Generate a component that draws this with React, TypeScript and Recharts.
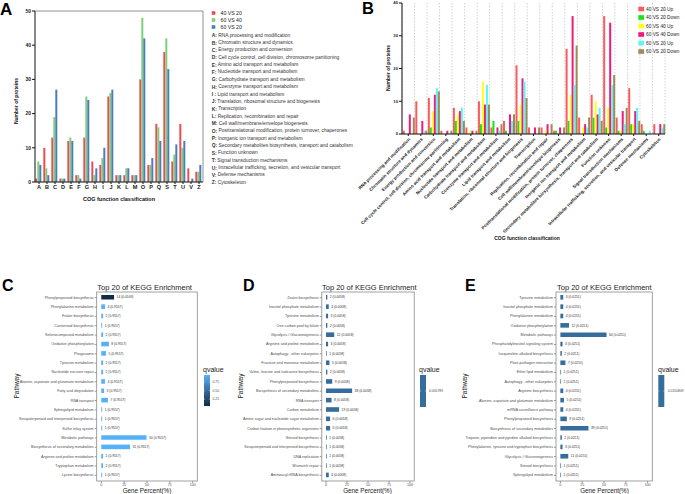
import React from "react";
import { BarChart, Bar, XAxis, YAxis, CartesianGrid, LabelList, Cell } from "recharts";

const FONT = "'Liberation Sans', Arial, Helvetica, sans-serif";

// ---------- Panel A ----------
const cogLetters = ["A", "B", "C", "D", "E", "F", "G", "H", "I", "J", "K", "L", "M", "O", "P", "Q", "S", "T", "U", "V", "Z"];
const cogNames = [
  "RNA processing and modification",
  "Chromatin structure and dynamics",
  "Energy production and conversion",
  "Cell cycle control, cell division, chromosome partitioning",
  "Amino acid transport and metabolism",
  "Nucleotide transport and metabolism",
  "Carbohydrate transport and metabolism",
  "Coenzyme transport and metabolism",
  "Lipid transport and metabolism",
  "Translation, ribosomal structure and biogenesis",
  "Transcription",
  "Replication, recombination and repair",
  "Cell wall/membrane/envelope biogenesis",
  "Posttranslational modification, protein turnover, chaperones",
  "Inorganic ion transport and metabolism",
  "Secondary metabolites biosynthesis, transport and catabolism",
  "Function unknown",
  "Signal transduction mechanisms",
  "Intracellular trafficking, secretion, and vesicular transport",
  "Defense mechanisms",
  "Cytoskeleton",
];
const aSeriesNames = ["40 VS 20", "60 VS 40", "60 VS 20"];
const aColors = ["#f04c4f", "#7dd07b", "#4b7db8"];
const a40vs20 = [1, 10, 13, 1, 12, 2, 13, 6, 5, 25, 2, 2, 2, 30, 5, 17, 38, 6, 17, 4, 3];
const a60vs40 = [6, 4, 19, 1, 13, 2, 25, 2, 7, 26, 2, 4, 2, 48, 5, 16, 42, 8, 10, 0, 3];
const a60vs20 = [5, 2, 27, 1, 12, 1, 24, 4, 10, 27, 2, 4, 2, 42, 7, 12, 33, 11, 12, 1, 5];
const aTicks = [0, 10, 20, 30, 40, 50];

// ---------- Panel B ----------
const bSeriesNames = ["40 VS 20 Up", "40 VS 20 Down", "60 VS 40 Up", "60 VS 40 Down", "60 VS 20 Up", "60 VS 20 Down"];
const bColors = ["#f85c5c", "#1ee01e", "#ffff1a", "#ee1a7c", "#5cf6f6", "#9e8a55"];
const b40Up = [1, 10, 11, 1, 8, 2, 10, 2, 4, 21, 2, 2, 1, 26, 5, 12, 36, 5, 14, 3, 3];
const b40Down = [0, 0, 2, 0, 4, 0, 3, 4, 1, 4, 0, 0, 1, 4, 0, 5, 2, 1, 3, 1, 0];
const b6040Up = [0, 0, 7, 0, 6, 1, 16, 0, 0, 9, 0, 1, 0, 12, 2, 10, 8, 1, 3, 0, 0];
const b6040Down = [6, 4, 12, 1, 7, 1, 9, 2, 6, 17, 2, 3, 2, 36, 3, 6, 34, 7, 7, 0, 3];
const b6020Up = [0, 1, 14, 0, 8, 0, 15, 1, 4, 16, 0, 0, 0, 15, 2, 8, 15, 3, 8, 1, 2];
const b6020Down = [5, 1, 13, 1, 4, 1, 9, 3, 6, 11, 2, 3, 2, 27, 5, 4, 18, 8, 4, 0, 3];
const bTicks = [0, 10, 20, 30, 40];

// ---------- Panel C ----------
const cNames = [
  "Phenylpropanoid biosynthesis",
  "Phenylalanine metabolism",
  "Folate biosynthesis",
  "Carotenoid biosynthesis",
  "Selenocompound metabolism",
  "Oxidative phosphorylation",
  "Phagosome",
  "Tyrosine metabolism",
  "Nucleotide excision repair",
  "Alanine, aspartate and glutamate metabolism",
  "Fatty acid degradation",
  "RNA transport",
  "Sphingolipid metabolism",
  "Sesquiterpenoid and triterpenoid biosynthesis",
  "Sulfur relay system",
  "Metabolic pathways",
  "Biosynthesis of secondary metabolites",
  "Arginine and proline metabolism",
  "Tryptophan metabolism",
  "Lysine biosynthesis",
];
const cCounts = [14, 4, 2, 1, 2, 8, 5, 2, 2, 4, 3, 7, 1, 1, 1, 50, 31, 2, 2, 1];
const cPercent = [14.0, 4.1, 2.0, 1.0, 2.0, 8.3, 5.1, 2.0, 2.0, 4.1, 3.1, 7.3, 1.0, 1.0, 1.0, 49.5, 31.4, 2.0, 2.0, 1.0];
const cQ = [0.0509, 0.9557, 0.9557, 0.9557, 0.9557, 0.9557, 0.9557, 0.9557, 0.9557, 0.9557, 0.9557, 0.9557, 0.9557, 0.9557, 0.9557, 0.9557, 0.9557, 0.9557, 0.9557, 0.9557];
const cLegendTicks = [0.25, 0.5, 0.75];

// ---------- Panel D ----------
const dNames = [
  "Zeatin biosynthesis",
  "Inositol phosphate metabolism",
  "Tyrosine metabolism",
  "One carbon pool by folate",
  "Glycolysis / Gluconeogenesis",
  "Arginine and proline metabolism",
  "Autophagy - other eukaryotes",
  "Fructose and mannose metabolism",
  "Valine, leucine and isoleucine biosynthesis",
  "Phenylpropanoid biosynthesis",
  "Biosynthesis of secondary metabolites",
  "RNA transport",
  "Carbon metabolism",
  "Amino sugar and nucleotide sugar metabolism",
  "Carbon fixation in photosynthetic organisms",
  "Steroid biosynthesis",
  "Sesquiterpenoid and triterpenoid biosynthesis",
  "DNA replication",
  "Mismatch repair",
  "Aminoacyl-tRNA biosynthesis",
];
const dCounts = [2, 4, 3, 2, 12, 3, 1, 5, 2, 9, 38, 8, 19, 6, 6, 1, 1, 1, 1, 4];
const dPercent = [1.6, 3.3, 2.5, 1.6, 9.8, 2.5, 0.8, 4.1, 1.6, 7.4, 31.1, 6.6, 15.6, 4.9, 4.9, 0.8, 0.8, 0.8, 0.8, 3.3];
const dQ = 0.0058;
const dLegendLabel = "0.005789";

// ---------- Panel E ----------
const eNames = [
  "Tyrosine metabolism",
  "Inositol phosphate metabolism",
  "Phenylalanine metabolism",
  "Oxidative phosphorylation",
  "Metabolic pathways",
  "Phosphatidylinositol signaling system",
  "Isoquinoline alkaloid biosynthesis",
  "Plant-pathogen interaction",
  "Ether lipid metabolism",
  "Autophagy - other eukaryotes",
  "Arginine biosynthesis",
  "Alanine, aspartate and glutamate metabolism",
  "mRNA surveillance pathway",
  "Phenylpropanoid biosynthesis",
  "Biosynthesis of secondary metabolites",
  "Tropane, piperidine and pyridine alkaloid biosynthesis",
  "Phenylalanine, tyrosine and tryptophan biosynthesis",
  "Glycolysis / Gluconeogenesis",
  "Steroid biosynthesis",
  "Sphingolipid metabolism",
];
const eCounts = [4, 4, 4, 12, 64, 3, 2, 7, 1, 1, 4, 5, 4, 9, 39, 2, 3, 11, 1, 1];
const ePercent = [3.3, 3.3, 3.3, 9.9, 52.9, 2.5, 1.7, 5.8, 0.8, 0.8, 3.3, 4.1, 3.3, 7.4, 32.2, 1.7, 2.5, 9.1, 0.8, 0.8];
const eQ = 0.0251;
const eLegendLabel = "0.0250849";

const pctTicks = [0, 25, 50, 75, 100];

const LOW = [0x13, 0x2b, 0x43];
const HIGH = [0x56, 0xb1, 0xf7];
function qColor(q: number, qmin: number, qmax: number) {
  const t = qmax > qmin ? (q - qmin) / (qmax - qmin) : 0.5;
  const c = LOW.map((l, i) => Math.round(l + (HIGH[i] - l) * t));
  return `rgb(${c[0]},${c[1]},${c[2]})`;
}

const BTick = (props: any) => {
  const { x, y, payload } = props;
  const ax = x + 1.2;
  const ay = y + 1.5;
  return (
    <text
      x={ax}
      y={ay}
      transform={`rotate(-45 ${ax} ${ay})`}
      textAnchor="end"
      dominantBaseline="central"
      fontSize={4.45}
      fontWeight="bold"
      fill="#222"
      fontFamily={FONT}
    >
      {payload.value}
    </text>
  );
};

const PathTick = (props: any) => {
  const { x, y, payload } = props;
  return (
    <text x={x} y={y} textAnchor="end" dominantBaseline="central" fontSize={3.7} fill="#4d4d4d" fontFamily={FONT}>
      {payload.value}
    </text>
  );
};

type KeggProps = {
  left: number;
  top: number;
  width: number;
  yW: number;
  mRight: number;
  rows: { name: string; pct: number; label: string; color: string }[];
};

function KeggChart({ left, top, width, yW, mRight, rows }: KeggProps) {
  return (
    <div style={{ position: "absolute", left, top }}>
      <BarChart
        layout="vertical"
        width={width}
        height={494 - top}
        data={rows}
        margin={{ top: 292 - top, right: mRight, left: 0, bottom: 4 }}
      >
        <XAxis
          type="number"
          domain={[-5, 105]}
          ticks={pctTicks}
          axisLine={false}
          tickLine={{ stroke: "#333", strokeWidth: 0.5 }}
          tickSize={2}
          tickMargin={0.5}
          height={9}
          tick={{ fontSize: 3.6, fill: "#4d4d4d", fontFamily: FONT }}
        />
        <YAxis
          type="category"
          dataKey="name"
          width={yW}
          axisLine={false}
          tickLine={{ stroke: "#333", strokeWidth: 0.5 }}
          tickSize={2}
          tickMargin={1}
          interval={0}
          padding={{ top: 1, bottom: 1 }}
          tick={<PathTick />}
        />
        <Bar dataKey="pct" barSize={4.6} isAnimationActive={false}>
          {rows.map((r, i) => (
            <Cell key={i} fill={r.color} />
          ))}
          <LabelList dataKey="label" position="right" offset={2.5} fontSize={3.3} fill="#333" fontFamily={FONT} />
        </Bar>
      </BarChart>
    </div>
  );
}

export default function App() {
  const aData = cogLetters.map((l, i) => ({ name: l, v0: a40vs20[i], v1: a60vs40[i], v2: a60vs20[i] }));
  const bData = cogNames.map((n, i) => ({
    name: n,
    s0: b40Up[i],
    s1: b40Down[i],
    s2: b6040Up[i],
    s3: b6040Down[i],
    s4: b6020Up[i],
    s5: b6020Down[i],
  }));
  const cMin = Math.min(...cQ);
  const cMax = Math.max(...cQ);
  const cRows = cNames.map((n, i) => ({
    name: n,
    pct: cPercent[i],
    label: `${cCounts[i]} (${cQ[i].toFixed(4)})`,
    color: qColor(cQ[i], cMin, cMax),
  }));
  const dRows = dNames.map((n, i) => ({
    name: n,
    pct: dPercent[i],
    label: `${dCounts[i]} (${dQ.toFixed(4)})`,
    color: qColor(dQ, dQ, dQ),
  }));
  const eRows = eNames.map((n, i) => ({
    name: n,
    pct: ePercent[i],
    label: `${eCounts[i]} (${eQ.toFixed(4)})`,
    color: qColor(eQ, eQ, eQ),
  }));

  const midColor = qColor(0, 0, 0);
  const cbTop = 375;
  const cbH = 31;
  const cbY = (q: number) => cbTop + cbH - ((q - cMin) / (cMax - cMin)) * cbH;

  const bold = { fontFamily: FONT, fontWeight: "bold" as const };

  return (
    <div
      style={{
        position: "absolute",
        left: 0,
        top: 0,
        width: 685,
        height: 494,
        background: "#fff",
        overflow: "hidden",
        fontFamily: FONT,
      }}
    >
      {/* Panel A */}
      <div style={{ position: "absolute", left: 0, top: 0 }}>
        <BarChart
          width={210}
          height={205}
          data={aData}
          margin={{ top: 11, right: 7, left: 0, bottom: 7 }}
          barCategoryGap="4%"
          barGap={0}
        >
          <XAxis
            dataKey="name"
            height={16}
            interval={0}
            tickSize={2}
            tickMargin={1}
            axisLine={{ stroke: "#111" }}
            tickLine={{ stroke: "#111" }}
            tick={{ fontSize: 5.6, fill: "#222", fontWeight: "bold", fontFamily: FONT }}
          />
          <YAxis
            width={35}
            domain={[0, 50]}
            ticks={aTicks}
            tickSize={3}
            tickMargin={1}
            axisLine={{ stroke: "#111" }}
            tickLine={{ stroke: "#111" }}
            tick={{ fontSize: 5, fill: "#222", fontWeight: "bold", fontFamily: FONT }}
          />
          <Bar dataKey="v0" name={aSeriesNames[0]} fill={aColors[0]} isAnimationActive={false} />
          <Bar dataKey="v1" name={aSeriesNames[1]} fill={aColors[1]} isAnimationActive={false} />
          <Bar dataKey="v2" name={aSeriesNames[2]} fill={aColors[2]} isAnimationActive={false} />
        </BarChart>
      </div>

      {/* Panel B */}
      <div style={{ position: "absolute", left: 340, top: 0 }}>
        <BarChart
          width={345}
          height={252}
          data={bData}
          margin={{ top: 3, right: 20, left: 42, bottom: 13 }}
          barCategoryGap={0.8}
          barGap={0}
        >
          <CartesianGrid
            horizontal={false}
            stroke="#d0d0d0"
            strokeDasharray="1.5 1.5"
            verticalCoordinatesGenerator={({ offset }: any) =>
              Array.from({ length: cogNames.length + 1 }, (_, i) => offset.left + (i * offset.width) / cogNames.length)
            }
          />
          <XAxis
            dataKey="name"
            height={105}
            interval={0}
            tickSize={2}
            tickMargin={1}
            axisLine={{ stroke: "#111" }}
            tickLine={{ stroke: "#111" }}
            tick={<BTick />}
          />
          <YAxis
            width={20}
            domain={[0, 40]}
            ticks={bTicks}
            tickSize={3}
            tickMargin={1}
            axisLine={{ stroke: "#111" }}
            tickLine={{ stroke: "#111" }}
            tick={{ fontSize: 4.2, fill: "#222", fontWeight: "bold", fontFamily: FONT }}
          />
          {bSeriesNames.map((s, i) => (
            <Bar key={s} dataKey={`s${i}`} name={s} fill={bColors[i]} isAnimationActive={false} />
          ))}
        </BarChart>
      </div>

      {/* Panels C, D, E */}
      <KeggChart left={0} top={280} width={240} yW={96.7} mRight={42.7} rows={cRows} />
      <KeggChart left={220} top={280} width={240} yW={101.8} mRight={45.8} rows={dRows} />
      <KeggChart left={455} top={280} width={230} yW={101} mRight={33} rows={eRows} />

      {/* Overlay texts, legends, frames */}
      <svg
        width={685}
        height={494}
        style={{ position: "absolute", left: 0, top: 0, pointerEvents: "none" }}
      >
        <defs>
          <linearGradient id="qgrad" x1="0" y1="1" x2="0" y2="0">
            <stop offset="0%" stopColor="#132B43" />
            <stop offset="100%" stopColor="#56B1F7" />
          </linearGradient>
        </defs>

        {/* Panel A */}
        <text x={0} y={14.5} fontSize={17} {...bold} fill="#000">A</text>
        <line x1={35} y1={11} x2={203} y2={11} stroke="#777" strokeWidth={0.8} />
        <line x1={203} y1={11} x2={203} y2={182} stroke="#777" strokeWidth={0.8} />
        <text x={16} y={101} transform="rotate(-90 16 101)" textAnchor="middle" dominantBaseline="central" fontSize={5} {...bold} fill="#111">
          Number of proteins
        </text>
        <text x={119} y={200.5} textAnchor="middle" fontSize={5.5} {...bold} fill="#111">
          COG function classification
        </text>
        {aSeriesNames.map((s, i) => (
          <g key={s}>
            <rect x={211.7} y={13 + i * 7 - 1.8} width={3.6} height={3.6} fill={aColors[i]} />
            <text x={220.5} y={13 + i * 7} dominantBaseline="central" fontSize={5.2} fontFamily={FONT} fill="#222">
              {s}
            </text>
          </g>
        ))}
        {cogLetters.map((l, i) => (
          <text key={l} x={211.7} y={35.2 + i * 7.35} dominantBaseline="central" fontSize={4.9} fontFamily={FONT} fill="#333">
            <tspan fontWeight="bold">{l === "I" ? "I :" : `${l}:`}</tspan> {cogNames[i]}
          </text>
        ))}

        {/* Panel B */}
        <text x={362} y={13.5} fontSize={16.5} {...bold} fill="#000">B</text>
        <text x={388} y={68} transform="rotate(-90 388 68)" textAnchor="middle" dominantBaseline="central" fontSize={5} {...bold} fill="#111">
          Number of proteins
        </text>
        <text x={527} y={240} textAnchor="middle" fontSize={5} {...bold} fill="#111">
          COG function classification
        </text>
        {bSeriesNames.map((s, i) => (
          <g key={s}>
            <rect x={638.3} y={9 + i * 8.5 - 2.3} width={5.8} height={4.6} fill={bColors[i]} />
            <text x={646} y={9 + i * 8.5} dominantBaseline="central" fontSize={4.8} fontFamily={FONT} fill="#222">
              {s}
            </text>
          </g>
        ))}

        {/* Panel C */}
        <text x={2} y={291} fontSize={16} {...bold} fill="#000">C</text>
        <text x={97.3} y={289.5} fontSize={7.5} fontFamily={FONT} fill="#222">Top 20 of KEGG Enrichment</text>
        <rect x={96.7} y={292} width={100.6} height={189} fill="none" stroke="#8a8a8a" strokeWidth={0.8} />
        <text x={16} y={386} transform="rotate(-90 16 386)" textAnchor="middle" dominantBaseline="central" fontSize={6.5} fontFamily={FONT} fill="#222">Pathway</text>
        <text x={147} y={492.5} textAnchor="middle" fontSize={6.3} fontFamily={FONT} fill="#222">Gene Percent(%)</text>
        <text x={203} y={371.5} fontSize={7} fontFamily={FONT} fill="#222">qvalue</text>
        <rect x={204} y={cbTop} width={6} height={cbH} fill="url(#qgrad)" />
        {cLegendTicks.map((t) => (
          <g key={t}>
            <line x1={204} x2={205.2} y1={cbY(t)} y2={cbY(t)} stroke="#fff" strokeWidth={0.4} />
            <line x1={208.8} x2={210} y1={cbY(t)} y2={cbY(t)} stroke="#fff" strokeWidth={0.4} />
            <text x={212.5} y={cbY(t)} dominantBaseline="central" fontSize={3.4} fontFamily={FONT} fill="#4d4d4d">
              {t.toFixed(2)}
            </text>
          </g>
        ))}

        {/* Panel D */}
        <text x={243} y={291} fontSize={16} {...bold} fill="#000">D</text>
        <text x={322} y={289.5} fontSize={7.5} fontFamily={FONT} fill="#222">Top 20 of KEGG Enrichment</text>
        <rect x={321.8} y={292} width={92.4} height={189} fill="none" stroke="#8a8a8a" strokeWidth={0.8} />
        <text x={240.5} y={386} transform="rotate(-90 240.5 386)" textAnchor="middle" dominantBaseline="central" fontSize={6.5} fontFamily={FONT} fill="#222">Pathway</text>
        <text x={367.5} y={492.5} textAnchor="middle" fontSize={6.3} fontFamily={FONT} fill="#222">Gene Percent(%)</text>
        <text x={419} y={371.5} fontSize={7} fontFamily={FONT} fill="#222">qvalue</text>
        <rect x={420} y={cbTop} width={6} height={cbH + 1} fill={midColor} />
        <line x1={420} x2={421.2} y1={391} y2={391} stroke="#fff" strokeWidth={0.4} />
        <line x1={424.8} x2={426} y1={391} y2={391} stroke="#fff" strokeWidth={0.4} />
        <text x={429} y={391} dominantBaseline="central" fontSize={3.4} fontFamily={FONT} fill="#4d4d4d">{dLegendLabel}</text>

        {/* Panel E */}
        <text x={465} y={291} fontSize={16} {...bold} fill="#000">E</text>
        <text x={557} y={289.5} fontSize={7.5} fontFamily={FONT} fill="#222">Top 20 of KEGG Enrichment</text>
        <rect x={556} y={292} width={96.3} height={189} fill="none" stroke="#8a8a8a" strokeWidth={0.8} />
        <text x={464} y={386} transform="rotate(-90 464 386)" textAnchor="middle" dominantBaseline="central" fontSize={6.5} fontFamily={FONT} fill="#222">Pathway</text>
        <text x={604.5} y={492.5} textAnchor="middle" fontSize={6.3} fontFamily={FONT} fill="#222">Gene Percent(%)</text>
        <text x={658} y={371.5} fontSize={7} fontFamily={FONT} fill="#222">qvalue</text>
        <rect x={658.3} y={cbTop} width={6} height={cbH + 1} fill={midColor} />
        <line x1={658.3} x2={659.5} y1={391} y2={391} stroke="#fff" strokeWidth={0.4} />
        <line x1={663.1} x2={664.3} y1={391} y2={391} stroke="#fff" strokeWidth={0.4} />
        <text x={667.7} y={391} dominantBaseline="central" fontSize={3.4} fontFamily={FONT} fill="#4d4d4d">{eLegendLabel}</text>
      </svg>
    </div>
  );
}
